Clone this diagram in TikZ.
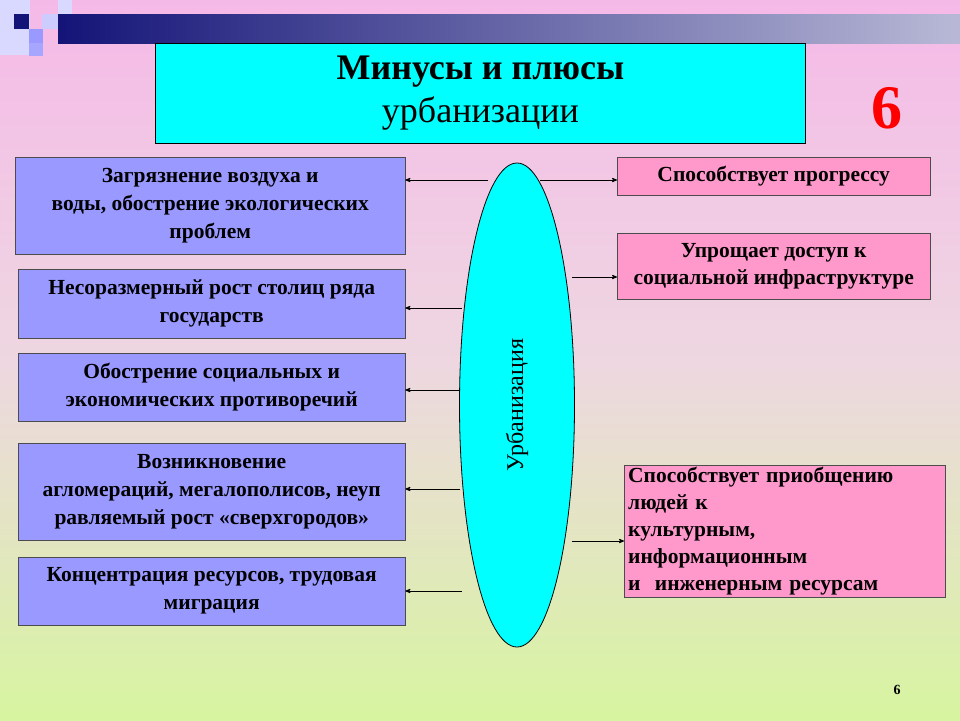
\documentclass[tikz,border=0pt]{standalone}
\usepackage{fontspec}
\setmainfont{Liberation Serif}
\usetikzlibrary{shapes,arrows}
\usetikzlibrary{positioning}
\definecolor{minus}{RGB}{153,153,255}
\definecolor{plus}{RGB}{255,153,204}
\definecolor{aqua}{RGB}{0,255,255}
\definecolor{bgpink}{RGB}{245,185,232}
\definecolor{bgmid}{RGB}{238,215,225}
\definecolor{bggreen}{RGB}{215,245,160}
\definecolor{navy}{RGB}{20,20,120}
\tikzset{
    minusbox/.style={
           rectangle,
           draw=black!70, thin,
           fill=minus,
           anchor=north west,
           align=center,
           inner sep=2pt,
           font=\fontsize{21.5}{28}\selectfont\bfseries
           },
    plusbox/.style={
           rectangle,
           draw=black!70, thin,
           fill=plus,
           anchor=north west,
           align=center,
           inner sep=2pt,
           font=\fontsize{21.5}{27}\selectfont\bfseries
           }
}
\begin{document}
\begin{tikzpicture}[x=1pt, y=-1pt, >=stealth', thick]
   \useasboundingbox (0,0) rectangle (960,720);
   % background
   \shade[top color=bgpink, bottom color=bggreen, middle color=bgmid] (0,0) rectangle (960,720);
   \shade[left color=navy, right color=navy!30!white] (58,14) rectangle (960,43);
   \fill[white!85!blue] (0,0) rectangle (30,55);
   \fill[navy] (14,14) rectangle (29,29);
   \fill[blue!20!white] (42,14) rectangle (58,29);
   \fill[blue!40!white] (29,29) rectangle (43,43);
   \fill[blue!35!white] (29,43) rectangle (43,56);
   \fill[blue!15!white] (58,0) rectangle (72,14);

   \node[draw=black, fill=aqua, minimum width=650pt, minimum height=100pt, anchor=north west,
         align=center, font=\fontsize{36}{43}\selectfont] (title) at (155,43)
         {\bfseries Минусы и плюсы\\урбанизации};
   \node[text=red, font=\fontsize{62}{62}\selectfont\bfseries] (num) at (887,108) {6};

   \node[ellipse, draw=black, fill=aqua, minimum width=115pt, minimum height=484pt] (urb) at (517,405) {};
   \node[rotate=90, font=\fontsize{24}{24}\selectfont] (urblabel) at (urb.center) {Урбанизация};

   \node[minusbox, minimum width=390pt, minimum height=97pt] (m1) at (15,157)
         {Загрязнение воздуха и\\воды, обострение экологических\\проблем};
   \node[minusbox, minimum width=387pt, minimum height=69pt] (m2) at (18,269)
         {Несоразмерный рост столиц ряда\\государств};
   \node[minusbox, minimum width=387pt, minimum height=68pt] (m3) at (18,353)
         {Обострение социальных и\\экономических противоречий};
   \node[minusbox, minimum width=387pt, minimum height=97pt] (m4) at (18,443)
         {Возникновение\\агломераций, мегалополисов, неуп\\равляемый рост «сверхгородов»};
   \node[minusbox, minimum width=387pt, minimum height=68pt] (m5) at (18,557)
         {Концентрация ресурсов, трудовая\\миграция};

   \node[plusbox, minimum width=313pt, minimum height=38pt] (p1) at (617,157)
         {Способствует прогрессу};
   \node[plusbox, minimum width=313pt, minimum height=66pt] (p2) at (617,233)
         {Упрощает доступ к\\социальной инфраструктуре};
   \node[plusbox, minimum width=321pt, minimum height=119pt, align=left, text width=313pt] (p3) at (624,465)
         {Способствует приобщению\\людей к\\культурным, информационным\\и~ инженерным ресурсам};

   \coordinate (a1) at (488,180);
   \coordinate (a2) at (462,308);
   \coordinate (a3) at (460,390);
   \coordinate (a4) at (460,489);
   \coordinate (a5) at (462,591);
   \coordinate (b1) at (540,180);
   \coordinate (b2) at (572,277);
   \coordinate (b3) at (572,541);

   \draw[->] (a1) -- (m1.east |- a1);
   \draw[->] (a2) -- (m2.east |- a2);
   \draw[->] (a3) -- (m3.east |- a3);
   \draw[->] (a4) -- (m4.east |- a4);
   \draw[->] (a5) -- (m5.east |- a5);
   \draw[->] (b1) -- (p1.west |- b1);
   \draw[->] (b2) -- (p2.west |- b2);
   \draw[->] (b3) -- (p3.west |- b3);

   \node[font=\fontsize{14}{14}\selectfont\bfseries] (page) at (897,690) {6};
\end{tikzpicture}
\end{document}
